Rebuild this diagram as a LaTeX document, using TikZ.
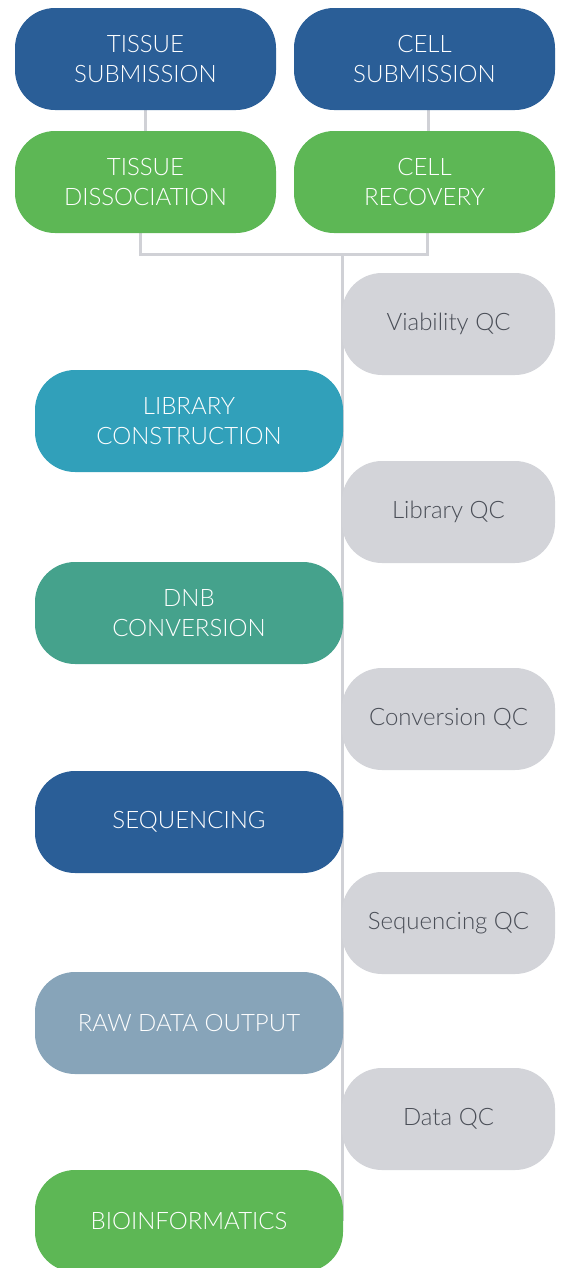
\documentclass[tikz,border=0pt]{standalone}
\usepackage{fontspec}
\setmainfont{Lato Light}
\usepackage{tikz}
\usetikzlibrary{backgrounds}
\usetikzlibrary{positioning}

\definecolor{navy}{HTML}{2A5E97}
\definecolor{leaf}{HTML}{5DB755}
\definecolor{teal}{HTML}{31A0BA}
\definecolor{seagreen}{HTML}{45A28C}
\definecolor{slate}{HTML}{87A4B9}
\definecolor{qcgray}{HTML}{D3D4D9}
\definecolor{qctext}{HTML}{4A4E57}
\definecolor{linegray}{HTML}{D0D1D6}

\begin{document}
\begin{tikzpicture}[x=0.75pt, y=-0.75pt,
every node/.style={rounded corners=30pt, minimum height=76.5pt,
inner sep=0pt, align=center, font=\fontsize{18}{22.5}\selectfont},
top/.style={fill=#1, text=white, minimum width=195.75pt},
stage/.style={fill=#1, text=white, minimum width=231pt},
qc/.style={fill=qcgray, text=qctext, minimum width=159.75pt},
link/.style={draw=linegray, line width=2.25pt}]
\useasboundingbox (0,0) rectangle (562,1268);

% sample intake
\node[top=navy] (tsub) at (145.5,59) {TISSUE\\SUBMISSION};
\node[top=navy] (csub) at (424.5,59) {CELL\\SUBMISSION};
\node[top=leaf] (tdis) at (145.5,182) {TISSUE\\DISSOCIATION};
\node[top=leaf] (crec) at (424.5,182) {CELL\\RECOVERY};

% main workflow
\node[stage=teal] (lib) at (189,421) {LIBRARY\\CONSTRUCTION};
\node[stage=seagreen] (dnb) at (189,613) {DNB\\CONVERSION};
\node[stage=navy] (seq) at (189,822) {SEQUENCING};
\node[stage=slate] (raw) at (189,1023) {RAW DATA OUTPUT};
\node[stage=leaf] (bioinf) at (189,1221) {BIOINFORMATICS};

% checkpoints
\foreach \name/\y/\txt in {viab/324/Viability QC, libqc/512/Library QC,
convqc/719/Conversion QC, seqqc/923/Sequencing QC, dataqc/1119/Data QC}{
\node[qc] (\name) at (448.5,\y) {\txt};}

\coordinate (split) at (342,254.5);
\begin{scope}[on background layer]
\draw[link] (tsub) -- (tdis);
\draw[link] ([xshift=3pt]csub.south) -- ([xshift=3pt]crec.north);
\draw[link] ([xshift=-4pt]tdis.south) |- (split)
  -| ([xshift=2.5pt]crec.south);
\draw[link] (split) -- (split |- bioinf.east);
\end{scope}
\end{tikzpicture}
\end{document}
